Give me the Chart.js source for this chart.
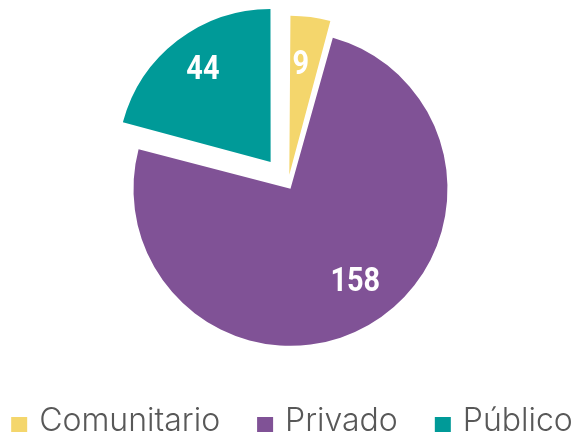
<!DOCTYPE html>
<html>
<head>
<meta charset="utf-8">
<script src="https://cdn.jsdelivr.net/npm/chart.js@4"></script>
<style>
  html, body { margin: 0; padding: 0; background: #fff; }
  #wrap { width: 576px; height: 438px; }
</style>
</head>
<body>
<div id="wrap"><canvas id="myChart"></canvas></div>
<script>
// data
var categories = ['Comunitario', 'Privado', 'Público'];
var values = [9, 158, 44];
var colors = ['#F4D66C', '#805296', '#009A98'];
// how far each slice is pulled out (Chart.js offset units)
var offsets = [39, 20, 114];
// where the number sits: share of the radius, and a small turn in degrees
var labelAt = [0.70, 0.70, 0.76];
var labelTurn = [-2, -6, 2];

// white numbers inside the slices
var valueLabels = {
    id: 'valueLabels',
    afterDatasetsDraw: function(chart) {
        var ctx = chart.ctx;
        var meta = chart.getDatasetMeta(0);
        meta.data.forEach(function(arc, i) {
            var p = arc.getProps(['x', 'y', 'startAngle', 'endAngle', 'outerRadius', 'circumference']);
            var mid = (p.startAngle + p.endAngle) / 2;
            // same shift Chart.js applies when drawing an offset arc
            var off = (arc.options.offset || 0) / 4;
            var fix = 1 - Math.sin(Math.min(Math.PI, p.circumference));
            var shift = off + off * fix;
            var a = mid + labelTurn[i] * Math.PI / 180;
            var r = p.outerRadius * labelAt[i];
            var x = p.x + Math.cos(mid) * shift + Math.cos(a) * r;
            var y = p.y + Math.sin(mid) * shift + Math.sin(a) * r;
            ctx.save();
            ctx.translate(x, y);
            ctx.scale(0.85, 1);  // narrower digits, like the original
            ctx.fillStyle = '#fff';
            ctx.font = 'bold 34px Roboto, sans-serif';
            ctx.textAlign = 'center';
            ctx.textBaseline = 'alphabetic';
            ctx.fillText(String(values[i]), 0, 12);
            ctx.restore();
        });
    }
};

// legend row under the pie: square, text, wide gaps
var bottomLegend = {
    id: 'bottomLegend',
    afterDraw: function(chart) {
        var ctx = chart.ctx;
        var box = 16, gap = 12, spacing = 37;
        var baseline = 431;
        ctx.save();
        ctx.font = '300 32px Inter, "Noto Sans", sans-serif';
        var widths = chart.data.labels.map(function(t) { return ctx.measureText(t).width; });
        var total = widths.reduce(function(s, w) { return s + box + gap + w; }, 0) + spacing * (widths.length - 1);
        var x = 292 - total / 2;
        chart.data.labels.forEach(function(t, i) {
            ctx.fillStyle = chart.data.datasets[0].backgroundColor[i];
            ctx.fillRect(x, baseline - 14, box, 15);
            x += box + gap;
            ctx.fillStyle = '#585858';
            ctx.textBaseline = 'alphabetic';
            ctx.fillText(t, x, baseline);
            x += widths[i] + spacing;
        });
        ctx.restore();
    }
};

var ctx = document.getElementById('myChart').getContext('2d');
var chart = new Chart(ctx, {
    type: 'pie',
    data: {
        labels: categories,
        datasets: [{
            data: values,
            backgroundColor: colors,
            borderWidth: 0,
            offset: offsets,
            hoverOffset: 0
        }]
    },
    options: {
        responsive: true,
        maintainAspectRatio: false,
        animation: false,
        radius: 152,
        layout: { padding: { top: 2, bottom: 71 } },
        plugins: {
            tooltip: { enabled: false },
            legend: { display: false }
        }
    },
    plugins: [valueLabels, bottomLegend]
});
</script>
</body>
</html>
